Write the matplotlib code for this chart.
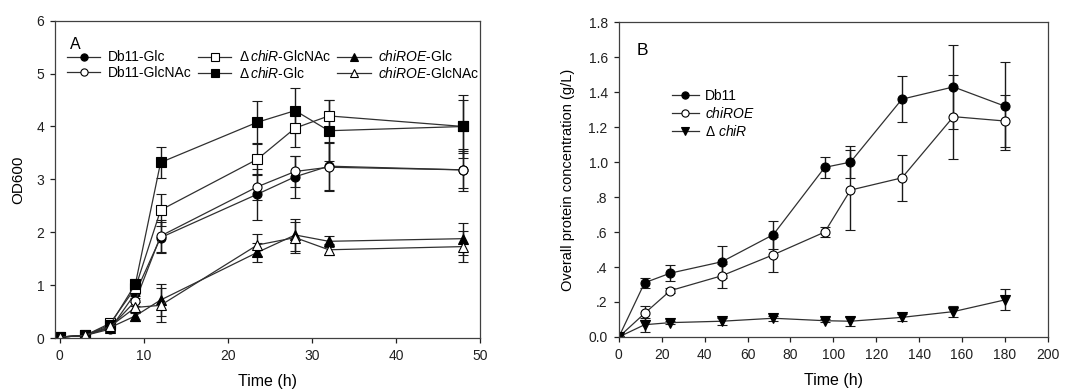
import matplotlib
matplotlib.use("Agg")
import matplotlib.pyplot as plt
import numpy as np
from matplotlib.lines import Line2D
from matplotlib.ticker import FuncFormatter

plt.rcParams['font.family'] = ['Liberation Sans', 'DejaVu Sans']
plt.rcParams['mathtext.fontset'] = 'custom'
plt.rcParams['mathtext.rm'] = 'Liberation Sans'
plt.rcParams['mathtext.it'] = 'Liberation Sans:italic'

# ---- Panel A data ----
time_a = [0, 3, 6, 9, 12, 23.5, 28, 32, 48]
db11_glc = [0.02, 0.05, 0.17, 0.85, 1.90, 2.72, 3.05, 3.25, 3.18]
db11_glc_err = [0.0, 0.02, 0.05, 0.10, 0.30, 0.48, 0.40, 0.45, 0.40]
db11_glcnac = [0.02, 0.05, 0.20, 0.70, 1.93, 2.86, 3.15, 3.23, 3.18]
db11_glcnac_err = [0.0, 0.02, 0.05, 0.10, 0.30, 0.25, 0.30, 0.45, 0.35]
dchir_glcnac = [0.02, 0.05, 0.28, 0.95, 2.42, 3.38, 3.97, 4.20, 4.00]
dchir_glcnac_err = [0.0, 0.02, 0.05, 0.10, 0.30, 0.30, 0.35, 0.30, 0.50]
dchir_glc = [0.02, 0.05, 0.25, 1.02, 3.32, 4.08, 4.30, 3.92, 4.00]
dchir_glc_err = [0.0, 0.02, 0.05, 0.10, 0.30, 0.41, 0.43, 0.58, 0.60]
chiroe_glc = [0.02, 0.05, 0.20, 0.42, 0.72, 1.62, 1.95, 1.83, 1.88]
chiroe_glc_err = [0.0, 0.02, 0.05, 0.10, 0.30, 0.18, 0.30, 0.10, 0.30]
chiroe_glcnac = [0.02, 0.05, 0.22, 0.58, 0.62, 1.76, 1.90, 1.67, 1.73]
chiroe_glcnac_err = [0.0, 0.02, 0.05, 0.10, 0.32, 0.20, 0.30, 0.10, 0.30]

labels_a = ['Db11-Glc', 'Db11-GlcNAc', r'Δ$\,\it{chiR}$-GlcNAc',
            r'Δ$\,\it{chiR}$-Glc', r'$\it{chiROE}$-Glc', r'$\it{chiROE}$-GlcNAc']

# ---- Panel B data ----
time_b = [0, 12, 24, 48, 72, 96, 108, 132, 156, 180]
db11 = [0.0, 0.31, 0.365, 0.43, 0.585, 0.97, 1.00, 1.36, 1.43, 1.32]
db11_err = [0.0, 0.03, 0.045, 0.09, 0.08, 0.06, 0.09, 0.13, 0.24, 0.25]
chiroe = [0.0, 0.135, 0.265, 0.35, 0.47, 0.60, 0.84, 0.91, 1.26, 1.235]
chiroe_err = [0.0, 0.04, 0.015, 0.07, 0.10, 0.03, 0.23, 0.13, 0.24, 0.15]
dchir = [0.0, 0.07, 0.082, 0.09, 0.107, 0.093, 0.09, 0.112, 0.145, 0.212]
dchir_err = [0.0, 0.04, 0.01, 0.02, 0.015, 0.01, 0.025, 0.02, 0.03, 0.06]

labels_b = ['Db11', r'$\it{chiROE}$', r'Δ $\it{chiR}$']

fig = plt.figure(figsize=(10.67, 3.9), dpi=100)
axA = fig.add_axes([0.052, 0.133, 0.398, 0.814])
axB = fig.add_axes([0.580, 0.136, 0.402, 0.807])

lc = '#303030'
ekw = dict(ecolor='#1a1a1a', elinewidth=1.0, capsize=3.8, capthick=1.0)
ms = 6.5


def draw(ax, x, series, labels):
    hs = []
    for (y, e, m, fc), lab in zip(series, labels):
        ax.errorbar(x, y, yerr=e, fmt='-' + m, color=lc, lw=0.9,
                    mfc=fc, mec='black', mew=0.8, ms=ms, **ekw)
        hs.append(Line2D([], [], color=lc, lw=0.9, marker=m, mfc=fc,
                         mec='black', mew=0.8, ms=5.2, label=lab))
    return hs


series_a = [
    (db11_glc, db11_glc_err, 'o', 'black'),
    (db11_glcnac, db11_glcnac_err, 'o', 'white'),
    (dchir_glcnac, dchir_glcnac_err, 's', 'white'),
    (dchir_glc, dchir_glc_err, 's', 'black'),
    (chiroe_glc, chiroe_glc_err, '^', 'black'),
    (chiroe_glcnac, chiroe_glcnac_err, '^', 'white'),
]
handles = draw(axA, time_a, series_a, labels_a)

axA.set_xlim(-0.5, 50)
axA.set_ylim(0, 6)
axA.set_xticks([0, 10, 20, 30, 40, 50])
axA.set_yticks([0, 1, 2, 3, 4, 5, 6])
axA.set_xlabel('Time (h)', fontsize=11.5, labelpad=8)
axA.set_ylabel('OD600', fontsize=11, labelpad=8)
fig.text(0.0656, 0.874, 'A', fontsize=11.5, va='baseline', ha='left')
axA.legend(handles=handles, loc='center left', ncol=3,
           bbox_to_anchor=(0.0628, 0.833), bbox_transform=fig.transFigure,
           frameon=False, fontsize=10,
           handlelength=2.4, handletextpad=0.55, columnspacing=0.45,
           labelspacing=0.1, borderaxespad=0.0, borderpad=0.0)

series_b = [
    (db11, db11_err, 'o', 'black'),
    (chiroe, chiroe_err, 'o', 'white'),
    (dchir, dchir_err, 'v', 'black'),
]
hb = draw(axB, time_b, series_b, labels_b)

axB.set_xlim(0, 200)
axB.set_ylim(0, 1.8)
axB.set_xticks(np.arange(0, 201, 20))
axB.set_yticks([0, 0.2, 0.4, 0.6, 0.8, 1.0, 1.2, 1.4, 1.6, 1.8])
axB.yaxis.set_major_formatter(FuncFormatter(
    lambda v, p: '0.0' if abs(v) < 1e-9 else ('%.1f' % v if v >= 0.99 else ('%.1f' % v)[1:])))
axB.set_xlabel('Time (h)', fontsize=11.5, labelpad=8)
axB.set_ylabel('Overall protein concentration (g/L)', fontsize=10.5, labelpad=10)
fig.text(0.597, 0.859, 'B', fontsize=12.5, va='baseline', ha='left')
axB.legend(handles=hb, loc='center left', bbox_to_anchor=(0.630, 0.708),
           bbox_transform=fig.transFigure,
           frameon=False, fontsize=10, handlelength=1.9, handletextpad=0.45,
           labelspacing=0.2, borderaxespad=0.0, borderpad=0.0)

for ax in (axA, axB):
    for s in ax.spines.values():
        s.set_color('#404040')
        s.set_linewidth(0.9)
    ax.tick_params(direction='out', length=3.5, width=0.9, labelsize=10,
                   pad=4.5, colors='#202020', top=False, right=False)

fig.savefig('out.png', dpi=100)
